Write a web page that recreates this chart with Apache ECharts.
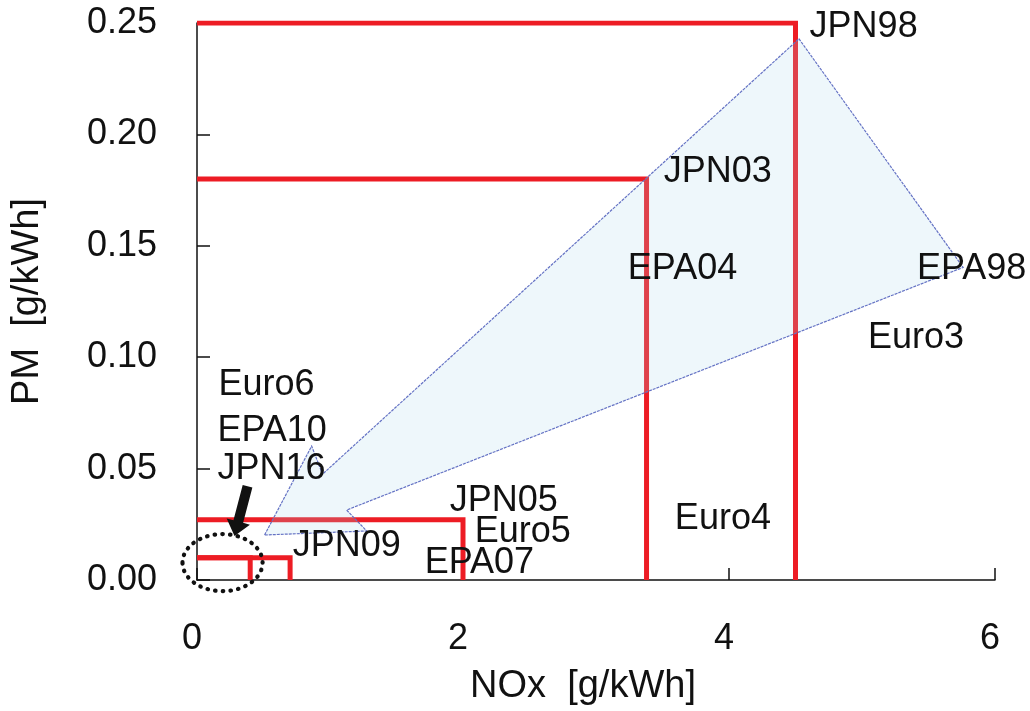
<!DOCTYPE html>
<html><head><meta charset="utf-8">
<script src="https://cdn.jsdelivr.net/npm/echarts@6/dist/echarts.min.js"></script>
<style>html,body{margin:0;padding:0;background:#fff}#c{width:1030px;height:711px}</style>
</head><body><div id="c"></div>
<script>
// Axis ranges / ticks
const xTicks = [0, 2, 4, 6];
const yTicks = [0.00, 0.05, 0.10, 0.15, 0.20, 0.25];

// Japanese regulation limit boxes (NOx g/kWh, PM g/kWh)
const limitNames = ['JPN98', 'JPN03', 'JPN05', 'JPN09', 'JPN16'];
const limitNOx  = [4.5, 3.38, 2.0, 0.7, 0.4];
const limitPM   = [0.25, 0.18, 0.027, 0.01, 0.01];

// Big translucent arrow outline (vertices in data units)
const arrowNOx = [0.508, 0.862, 0.944, 4.526, 5.76, 1.125, 1.276];
const arrowPM  = [0.0202, 0.0601, 0.0475, 0.2429, 0.1403, 0.0314, 0.0220];

// Text annotations (left edge, vertical centre, data units)
const annoText = ['JPN98', 'JPN03', 'EPA04', 'EPA98', 'Euro3', 'Euro4', 'Euro6', 'EPA10', 'JPN16', 'JPN05', 'Euro5', 'EPA07', 'JPN09'];
const annoNOx  = [4.606, 3.510, 3.239, 5.413, 5.045, 3.593, 0.162, 0.154, 0.154, 1.90, 2.088, 1.712, 0.719];
const annoPM   = [0.2492, 0.1842, 0.1403, 0.1405, 0.1094, 0.0282, 0.0883, 0.0677, 0.0509, 0.0363, 0.0222, 0.0087, 0.0161];

// Dotted ellipse around the newest limits and the black pointer
const ringCenter = [0.192, 0.0078];
const ringRadius = [0.301, 0.0128];
const pointerFrom = [0.38, 0.0421];
const pointerTo   = [0.282, 0.0197];

const FONT = "'Liberation Sans', Arial, Helvetica, sans-serif";
const chart = echarts.init(document.getElementById('c'), null, {renderer: 'canvas'});

const limitSeries = limitNames.map((n, i) => ({
  type: 'line', name: n,
  data: [[0, limitPM[i]], [limitNOx[i], limitPM[i]], [limitNOx[i], 0]],
  symbol: 'none', silent: true, animation: false, z: 2,
  lineStyle: {color: '#ed1c24', width: 5, join: 'miter', cap: 'butt'}
}));

const option = {
  animation: false,
  backgroundColor: '#ffffff',
  grid: {left: 197, right: 35, top: 23, bottom: 130, containLabel: false},
  xAxis: {
    type: 'value', min: xTicks[0], max: xTicks[xTicks.length - 1], interval: 2,
    name: 'NOx  [g/kWh]', nameLocation: 'middle', nameGap: 88,
    nameTextStyle: {fontSize: 38, color: '#111', fontFamily: FONT, padding: [0, 26, 0, 0]},
    axisLine: {onZero: false, lineStyle: {color: '#111', width: 1.5}},
    axisTick: {show: true, inside: true, length: 12, lineStyle: {color: '#111', width: 1.5}},
    axisLabel: {fontSize: 36, color: '#111', fontFamily: FONT, margin: 41, padding: [0, 10, 0, 0]},
    splitLine: {show: false}
  },
  yAxis: {
    type: 'value', min: yTicks[0], max: yTicks[yTicks.length - 1], interval: 0.05,
    name: 'PM  [g/kWh]', nameLocation: 'middle', nameGap: 150,
    nameTextStyle: {fontSize: 38, color: '#111', fontFamily: FONT},
    axisLine: {onZero: false, lineStyle: {color: '#111', width: 1.5}},
    axisTick: {show: true, inside: true, length: 13, lineStyle: {color: '#111', width: 1.5}},
    axisLabel: {fontSize: 36, color: '#111', fontFamily: FONT, margin: 40,
      formatter: v => v.toFixed(2)},
    splitLine: {show: false}
  },
  series: [
    ...limitSeries,
    {
      type: 'custom', name: 'trend', silent: true, z: 3,
      data: [[arrowNOx[0], arrowPM[0]]],
      renderItem: (params, api) => ({
        type: 'polygon',
        shape: {points: arrowNOx.map((x, i) => api.coord([x, arrowPM[i]]))},
        style: {fill: 'rgba(170,215,235,0.2)', stroke: '#6472c4', lineWidth: 1.2, lineDash: [3, 1]}
      })
    },
    {
      type: 'custom', name: 'ring', silent: true, z: 4, clip: false,
      data: [ringCenter],
      renderItem: (params, api) => {
        const c = api.coord(ringCenter);
        const s = api.size(ringRadius);
        return {
          type: 'ellipse',
          shape: {cx: c[0], cy: c[1], rx: s[0], ry: s[1]},
          style: {fill: null, stroke: '#111', lineWidth: 4.2, lineDash: [0.5, 7.2], lineCap: 'round'}
        };
      }
    },
    {
      type: 'custom', name: 'pointer', silent: true, z: 4, clip: false,
      data: [pointerFrom],
      renderItem: (params, api) => {
        const a = api.coord(pointerFrom), b = api.coord(pointerTo);
        const dx = b[0] - a[0], dy = b[1] - a[1];
        const L = Math.hypot(dx, dy);
        const ux = dx / L, uy = dy / L, nx = -uy, ny = ux;
        const head = 15, hw = 12, sw = 5;
        const bx = b[0] - ux * head, by = b[1] - uy * head;
        const pts = [
          [a[0] + nx * sw, a[1] + ny * sw],
          [bx + nx * sw, by + ny * sw],
          [bx + nx * hw, by + ny * hw],
          [b[0], b[1]],
          [bx - nx * hw, by - ny * hw],
          [bx - nx * sw, by - ny * sw],
          [a[0] - nx * sw, a[1] - ny * sw]
        ];
        return {type: 'polygon', shape: {points: pts}, style: {fill: '#111', stroke: null}};
      }
    },
    {
      type: 'scatter', name: 'labels', silent: true, z: 5,
      symbolSize: 0,
      itemStyle: {opacity: 1},
      data: annoText.map((t, i) => ({name: t, value: [annoNOx[i], annoPM[i]]})),
      label: {show: true, position: 'right', distance: 0, offset: [0, 2], formatter: '{b}',
        fontSize: 36, color: '#111', fontFamily: FONT, opacity: 1}
    }
  ]
};
chart.setOption(option);
</script>
</body></html>
